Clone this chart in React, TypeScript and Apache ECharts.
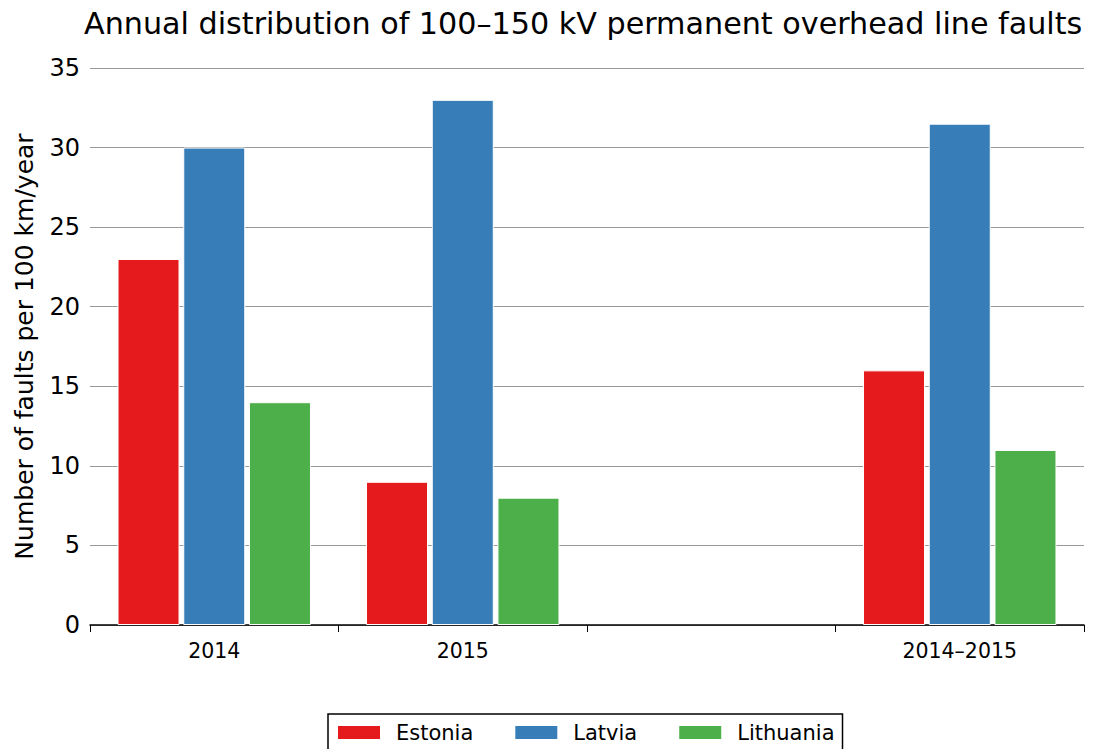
import React, { useEffect, useRef } from "react";
import * as echarts from "echarts";

const categories = ["2014", "2015", "", "2014–2015"];
const estonia = [23, 9, null, 16];
const latvia = [30, 33, null, 31.5];
const lithuania = [14, 8, null, 11];
const yTicks = [0, 5, 10, 15, 20, 25, 30, 35];

const FONT = "DejaVu Sans";

export default function App() {
  const ref = useRef<HTMLDivElement>(null);
  useEffect(() => {
    const chart = echarts.init(ref.current!, null, { renderer: "svg" });
    const barStyle = (color: string) => ({
      color,
      borderColor: "#ffffff",
      borderWidth: 1,
    });
    chart.setOption({
      animation: false,
      backgroundColor: "#ffffff",
      textStyle: { fontFamily: FONT },
      title: {
        text: "Annual distribution of 100–150 kV permanent overhead line faults",
        left: 84,
        top: 8,
        padding: 0,
        textStyle: { fontFamily: FONT, fontSize: 30.2, fontWeight: "normal", color: "#000" },
      },
      grid: { left: 90, right: 10, top: 68, bottom: 124, containLabel: false, outerBoundsMode: "none" },
      legend: {
        bottom: -6,
        left: 328,
        itemWidth: 44,
        itemHeight: 15,
        itemGap: 40,
        padding: [8, 8, 12, 8],
        borderColor: "#000",
        borderWidth: 1.5,
        borderRadius: 0,
        icon: "rect",
        textStyle: { fontFamily: FONT, fontSize: 21, color: "#000", padding: [0, 0, 0, 10] },
        data: ["Estonia", "Latvia", "Lithuania"],
      },
      xAxis: {
        type: "category",
        data: categories,
        boundaryGap: true,
        axisLine: { show: true, lineStyle: { color: "#000", width: 1.5 } },
        axisTick: { show: true, length: 7, inside: false, lineStyle: { color: "#000" } },
        axisLabel: { fontFamily: FONT, fontSize: 20.5, color: "#000", margin: 15 },
        splitLine: { show: false },
      },
      yAxis: {
        type: "value",
        min: 0,
        max: 35,
        interval: 5,
        name: "Number of faults per 100 km/year",
        nameLocation: "middle",
        nameGap: 53,
        nameTextStyle: { fontFamily: FONT, fontSize: 25, color: "#000" },
        axisLine: { show: false },
        axisTick: { show: false },
        axisLabel: {
          fontFamily: FONT,
          fontSize: 24,
          color: "#000",
          margin: 10,
          formatter: (v: number) => (yTicks.includes(v) ? String(v) : ""),
        },
        splitLine: { show: true, lineStyle: { color: "#999", width: 1 } },
      },
      series: [
        { name: "Estonia", type: "bar", data: estonia, barWidth: 62, barGap: "6%", itemStyle: barStyle("#e41a1c") },
        { name: "Latvia", type: "bar", data: latvia, barWidth: 62, barGap: "6%", itemStyle: barStyle("#377eb8") },
        { name: "Lithuania", type: "bar", data: lithuania, barWidth: 62, barGap: "6%", itemStyle: barStyle("#4daf4a") },
      ],
    });
    return () => chart.dispose();
  }, []);
  return <div ref={ref} style={{ width: 1094, height: 749, position: "absolute", left: 0, top: 0 }} />;
}
